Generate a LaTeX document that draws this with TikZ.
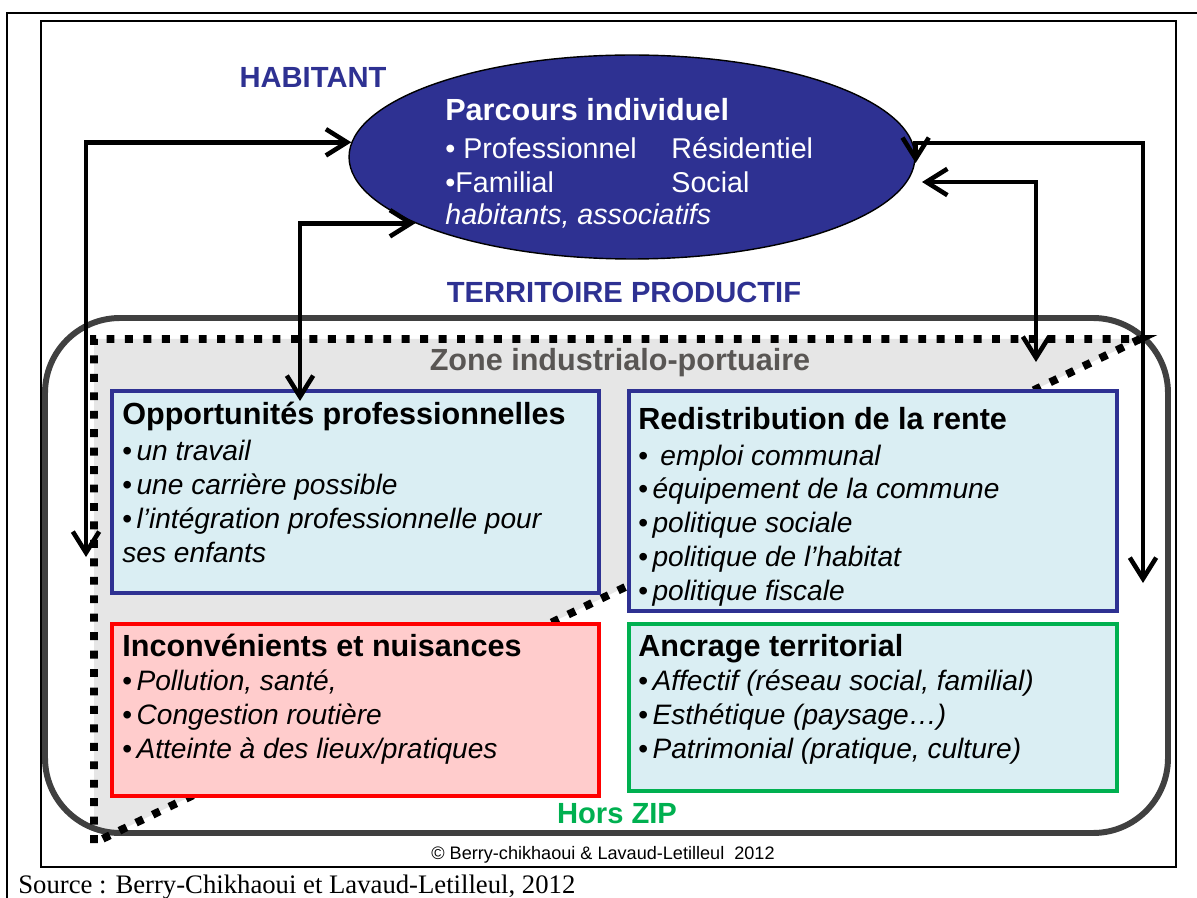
\documentclass[tikz,border=0pt]{standalone}
\usepackage{fontspec}
\setmainfont{Liberation Sans}
\newfontfamily\srcfont{Liberation Serif}
\usetikzlibrary{arrows.meta,shapes.geometric,fit}

\definecolor{navy}{RGB}{46,49,146}
\definecolor{aqua}{RGB}{218,238,243}
\definecolor{rose}{RGB}{255,204,204}
\definecolor{zipgreen}{RGB}{0,176,80}
\definecolor{zonegray}{RGB}{230,230,230}
\definecolor{zonetext}{RGB}{89,86,84}
\definecolor{framegray}{RGB}{64,64,64}

\newcommand{\hd}[1]{{\fontsize{17.4}{19.2}\selectfont\bfseries #1}}
\newcommand{\itm}[1]{•\hspace{2.5pt}\textit{#1}}

\tikzset{
  box/.style={draw,line width=2.8pt,inner sep=0pt},
  boxtext/.style={anchor=base west,inner sep=0pt,align=left,font=\fontsize{16}{19.2}\selectfont},
  title/.style={inner sep=0pt,font=\fontsize{16.6}{20}\selectfont\bfseries},
  arr/.style={line width=2.6pt,{Straight Barb[length=12pt,width=15pt]}-{Straight Barb[length=12pt,width=15pt]}},
}

\begin{document}
\begin{tikzpicture}[x=0.02cm,y=-0.02cm]
\useasboundingbox (0,0) rectangle (1197,898);

% cadres
\draw[line width=1.6pt] (7,898) -- (7,13) -- (1197,13);
\draw[line width=1pt] (41,21) rectangle (1176,867);

% territoire productif et zone
\begin{scope}
\clip[rounded corners=1.5cm] (45,318) rectangle (1168,833);
\fill[zonegray] (94,339) -- (1140,339) -- (94,843) -- cycle;
\end{scope}
\draw[framegray,line width=3.4pt,rounded corners=1.5cm] (45,318) rectangle (1168,833);
\draw[line width=4.5pt,dash pattern=on 4.5pt off 6pt] (94,843) -- (94,339) -- (1140,339) -- cycle;

\node[title,navy] (habitant) at (313,77) {HABITANT};
\node[ellipse,draw,fill=navy,line width=0.8pt,minimum width=11.32cm,minimum height=4.08cm,inner sep=0pt] (parcours) at (632,157) {};
% base = derniere ligne
\node[anchor=base west,inner sep=0pt,align=left,text=white,font=\fontsize{16.3}{19.4}\selectfont] (parcourstxt) at (445,225)
  {\hd{Parcours individuel}\\[2.5pt]
   \makebox[128.7pt][l]{• Professionnel}Résidentiel\\
   \makebox[128.7pt][l]{•Familial}Social\\[-1pt]
   \textit{habitants, associatifs}};

\node[title,navy] (territoire) at (624,292) {TERRITOIRE PRODUCTIF};
\node[title,zonetext,font=\fontsize{17.4}{20}\selectfont\bfseries] (zone) at (620,363) {Zone industrialo-portuaire};

% cadres des domaines
\node[box,draw=navy,fill=aqua,fit={(112,391) (599,593)}] (opp) {};
\node[box,draw=navy,fill=aqua,fit={(629,391) (1117,611)}] (rente) {};
\node[box,draw=red,fill=rose,fit={(112,624) (599,796)}] (nuis) {};
\node[box,draw=zipgreen,fill=aqua,fit={(629,624) (1117,791)}] (ancrage) {};

\node[boxtext] (opptxt) at (122,562) {\hd{Opportunités professionnelles}\\[1.2pt]
  \itm{un travail}\\ \itm{une carrière possible}\\ \itm{l'intégration professionnelle pour}\\ \textit{ses enfants}};
\node[boxtext] (rentetxt) at (638,600) {\hd{Redistribution de la rente}\\[1.2pt]
  •\hspace{7pt}\textit{emploi communal}\\ \itm{équipement de la commune}\\ \itm{politique sociale}\\ \itm{politique de l'habitat}\\ \itm{politique fiscale}};
\node[boxtext] (nuistxt) at (122,758) {\hd{Inconvénients et nuisances}\\
  \itm{Pollution, santé,}\\ \itm{Congestion routière}\\ \itm{Atteinte à des lieux/pratiques}};
\node[boxtext] (ancragetxt) at (638,758) {\hd{Ancrage territorial}\\
  \itm{Affectif (réseau social, familial)}\\ \itm{Esthétique (paysage…)}\\ \itm{Patrimonial (pratique, culture)}};

\node[title,zipgreen] (horszip) at (617,814) {Hors ZIP};
\node[inner sep=0pt,font=\fontsize{10.3}{12}\selectfont] (copy) at (603,855) {© Berry-chikhaoui \& Lavaud-Letilleul\ \ 2012};
\node[anchor=base west,inner sep=0pt,font=\srcfont\fontsize{15.2}{18}\selectfont] (source) at (18,893) {Source : Berry-Chikhaoui et Lavaud-Letilleul, 2012};

% fleches
\coordinate (lbot) at (86,557);
\coordinate (oppin) at (300,401);
\coordinate (rtop) at (1143,143);
\coordinate (rbot) at (1143,583);
\coordinate (rin) at (922,182);
\coordinate (zonein) at (1036,362);
\draw[arr] (lbot) |- (parcours.177);
\draw[arr] (oppin) |- (parcours.197);
\draw[arr] ([yshift=-0.12cm]parcours.east) |- (rtop) -- (rbot);
\draw[arr] (rin) -| (zonein);
\end{tikzpicture}
\end{document}
